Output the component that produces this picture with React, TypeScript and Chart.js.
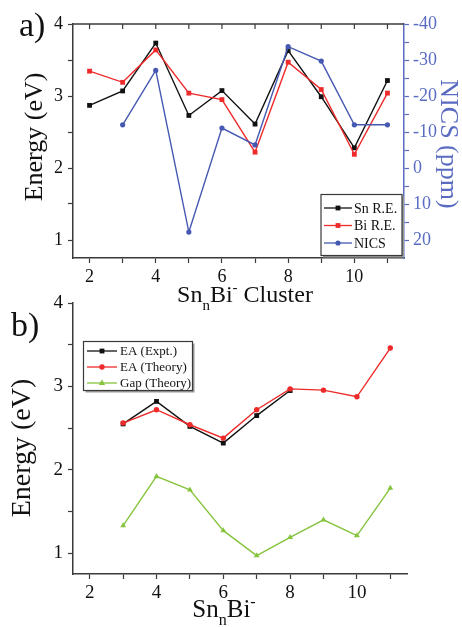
import React, { useEffect, useRef } from 'react';
import { Chart, registerables } from 'chart.js';

Chart.register(...registerables);

const W = 462;
const H = 627;
const SERIF = '"Liberation Serif", "Times New Roman", serif';

// ---------- Panel a data ----------
const clusterSizesA = [2, 3, 4, 5, 6, 7, 8, 9, 10, 11];
const snRE = [2.87, 3.07, 3.735, 2.73, 3.075, 2.61, 3.63, 2.99, 2.28, 3.215];
const biRE = [3.345, 3.19, 3.64, 3.04, 2.95, 2.22, 3.47, 3.09, 2.19, 3.04];
const nicsPpm: (number | null)[] = [null, -12, -27.1, 17.8, -11.1, -6.4, -33.7, -29.7, -12, -12];

// ---------- Panel b data ----------
const clusterSizesB = [3, 4, 5, 6, 7, 8, 9, 10, 11];
const eaExpt: (number | null)[] = [2.55, 2.82, 2.52, 2.32, 2.65, 2.95, null, null, null];
const eaTheory = [2.56, 2.72, 2.54, 2.38, 2.72, 2.97, 2.955, 2.875, 3.46];
const gapTheory = [1.33, 1.92, 1.76, 1.27, 0.97, 1.19, 1.4, 1.21, 1.78];

// ---------- Ticks ----------
const xTicks = [2, 3, 4, 5, 6, 7, 8, 9, 10, 11];
const xLabelTicks = [2, 4, 6, 8, 10];
const energyTicks = [1, 1.5, 2, 2.5, 3, 3.5, 4];
const energyLabelTicks = [1, 2, 3, 4];
const nicsTicks = [-40, -35, -30, -25, -20, -15, -10, -5, 0, 5, 10, 15, 20];
const nicsLabelTicks = [-40, -30, -20, -10, 0, 10, 20];

const FRAME = '#3a3a3a';
const BLACK = '#111111';
const RED = '#ee2a2a';
const BLUE = '#4659b2';
const BLUE_AXIS = '#5a6cc2';
const GREEN = '#86c43e';

const toXY = (xs: number[], ys: (number | null)[]) =>
  xs.map((x, i) => ({ x, y: ys[i] })).filter((p) => p.y !== null && p.y !== undefined);

const setTicks = (values: number[]) => (scale: any) => {
  scale.ticks = values.map((v) => ({ value: v }));
};
const labelOnly = (labels: number[]) => (v: any) =>
  labels.includes(Number(v)) ? String(v) : '';

type Seg = { t: string; kind?: 'sub' | 'sup' };

function drawRich(ctx: CanvasRenderingContext2D, segs: Seg[], cx: number, baseline: number, size: number, color: string) {
  const main = `${size}px ${SERIF}`;
  const small = `${Math.round(size * 0.62)}px ${SERIF}`;
  let total = 0;
  const widths = segs.map((s) => {
    ctx.font = s.kind ? small : main;
    const w = ctx.measureText(s.t).width;
    total += w;
    return w;
  });
  let x = cx - total / 2;
  ctx.fillStyle = color;
  ctx.textAlign = 'left';
  ctx.textBaseline = 'alphabetic';
  segs.forEach((s, i) => {
    ctx.font = s.kind ? small : main;
    const dy = s.kind === 'sub' ? size * 0.32 : s.kind === 'sup' ? -size * 0.42 : 0;
    ctx.fillText(s.t, x, baseline + dy);
    x += widths[i];
  });
}

function drawRotated(ctx: CanvasRenderingContext2D, text: string, cx: number, cy: number, size: number, color: string, angle: number) {
  ctx.save();
  ctx.translate(cx, cy);
  ctx.rotate(angle);
  ctx.font = `${size}px ${SERIF}`;
  ctx.fillStyle = color;
  ctx.textAlign = 'center';
  ctx.textBaseline = 'middle';
  ctx.fillText(text, 0, 0);
  ctx.restore();
}

function drawMarker(ctx: CanvasRenderingContext2D, style: string, x: number, y: number, r: number, color: string) {
  ctx.fillStyle = color;
  ctx.beginPath();
  if (style === 'rect') {
    const s = r * Math.SQRT1_2;
    ctx.rect(x - s, y - s, 2 * s, 2 * s);
  } else if (style === 'triangle') {
    ctx.moveTo(x, y - r);
    ctx.lineTo(x + r * 0.95, y + r * 0.6);
    ctx.lineTo(x - r * 0.95, y + r * 0.6);
    ctx.closePath();
  } else {
    ctx.arc(x, y, r, 0, Math.PI * 2);
  }
  ctx.fill();
}

function drawLegend(
  ctx: CanvasRenderingContext2D,
  chart: any,
  box: { x: number; y: number; w: number; h: number },
  rows: number[],
  lx0: number,
  lx1: number,
  tx: number,
  fontSize: number
) {
  ctx.save();
  ctx.fillStyle = '#9a9a9a';
  ctx.fillRect(box.x + 2, box.y + 2, box.w, box.h);
  ctx.fillStyle = '#ffffff';
  ctx.fillRect(box.x, box.y, box.w, box.h);
  ctx.strokeStyle = FRAME;
  ctx.lineWidth = 1.2;
  ctx.strokeRect(box.x, box.y, box.w, box.h);
  chart.data.datasets.forEach((ds: any, i: number) => {
    const y = rows[i];
    ctx.strokeStyle = ds.borderColor;
    ctx.lineWidth = 1.3;
    ctx.beginPath();
    ctx.moveTo(lx0, y);
    ctx.lineTo(lx1, y);
    ctx.stroke();
    drawMarker(ctx, ds.pointStyle, (lx0 + lx1) / 2, y, ds.pointRadius, ds.borderColor);
    ctx.font = `${fontSize}px ${SERIF}`;
    ctx.fillStyle = '#111';
    ctx.textAlign = 'left';
    ctx.textBaseline = 'middle';
    ctx.fillText(ds.label, tx, y + 1);
  });
  ctx.restore();
}

const decorA = {
  id: 'decorA',
  afterDraw(chart: any) {
    const ctx = chart.ctx as CanvasRenderingContext2D;
    const { left, right, top } = chart.chartArea;
    const xs = chart.scales.x;
    ctx.save();
    // top mirror axis with inward ticks
    ctx.strokeStyle = FRAME;
    ctx.lineWidth = 1.5;
    ctx.beginPath();
    ctx.moveTo(left, top);
    ctx.lineTo(right, top);
    ctx.stroke();
    ctx.lineWidth = 1.2;
    xTicks.forEach((v) => {
      const px = xs.getPixelForValue(v);
      ctx.beginPath();
      ctx.moveTo(px, top);
      ctx.lineTo(px, top + 5);
      ctx.stroke();
    });
    ctx.restore();

    ctx.save();
    ctx.font = `34px ${SERIF}`;
    ctx.fillStyle = '#111';
    ctx.textAlign = 'left';
    ctx.textBaseline = 'alphabetic';
    ctx.fillText('a)', 19, 36);
    drawRotated(ctx, 'Energy (eV)', 35, 137, 26, '#111', -Math.PI / 2);
    drawRotated(ctx, 'NICS (ppm)', 448, 144, 26, BLUE_AXIS, Math.PI / 2);
    drawRich(ctx, [{ t: 'Sn' }, { t: 'n', kind: 'sub' }, { t: 'Bi' }, { t: '-', kind: 'sup' }, { t: ' Cluster' }], 245, 302, 24, '#111');
    drawLegend(ctx, chart, { x: 321, y: 194.5, w: 81, h: 61 }, [208, 225.5, 243], 324, 352, 354, 14);
    ctx.restore();
  },
};

const decorB = {
  id: 'decorB',
  afterDraw(chart: any) {
    const ctx = chart.ctx as CanvasRenderingContext2D;
    ctx.save();
    ctx.font = `34px ${SERIF}`;
    ctx.fillStyle = '#111';
    ctx.textAlign = 'left';
    ctx.textBaseline = 'alphabetic';
    ctx.fillText('b)', 11, 336);
    drawRotated(ctx, 'Energy (eV)', 23, 448, 28, '#111', -Math.PI / 2);
    drawRich(ctx, [{ t: 'Sn' }, { t: 'n', kind: 'sub' }, { t: 'Bi' }, { t: '-', kind: 'sup' }], 224, 617, 25, '#111');
    drawLegend(ctx, chart, { x: 83.5, y: 341.5, w: 109, h: 49 }, [351, 367, 383], 87, 117, 120, 13);
    ctx.restore();
  },
};

function axisX(fontSize: number) {
  return {
    type: 'linear' as const,
    position: 'bottom' as const,
    min: 1.5,
    max: 11.5,
    afterBuildTicks: setTicks(xTicks),
    afterFit: (s: any) => {
      s.height = 50;
    },
    border: { display: true, color: FRAME, width: 1.5 },
    grid: { display: true, drawOnChartArea: false, drawTicks: true, tickLength: 5, tickColor: FRAME, tickWidth: 1.2 },
    ticks: {
      autoSkip: false,
      maxRotation: 0,
      padding: 3,
      color: '#111',
      font: { family: SERIF, size: fontSize },
      callback: labelOnly(xLabelTicks),
    },
  };
}

function axisEnergy(fontSize: number) {
  return {
    type: 'linear' as const,
    position: 'left' as const,
    min: 0.75,
    max: 4,
    afterBuildTicks: setTicks(energyTicks),
    afterFit: (s: any) => {
      s.width = 73;
    },
    border: { display: true, color: FRAME, width: 1.5 },
    grid: { display: true, drawOnChartArea: false, drawTicks: true, tickLength: 5, tickColor: FRAME, tickWidth: 1.2 },
    ticks: {
      autoSkip: false,
      padding: 5,
      color: '#111',
      font: { family: SERIF, size: fontSize },
      callback: labelOnly(energyLabelTicks),
    },
  };
}

function ChartA() {
  const ref = useRef<HTMLCanvasElement>(null);
  useEffect(() => {
    if (!ref.current) return;
    const chart = new Chart(ref.current, {
      type: 'line',
      data: {
        datasets: [
          {
            label: 'Sn R.E.',
            data: toXY(clusterSizesA, snRE),
            yAxisID: 'y',
            borderColor: BLACK,
            backgroundColor: BLACK,
            borderWidth: 1.4,
            pointStyle: 'rect',
            pointRadius: 3.4,
            pointBorderWidth: 0,
            tension: 0,
            order: 2,
          },
          {
            label: 'Bi R.E.',
            data: toXY(clusterSizesA, biRE),
            yAxisID: 'y',
            borderColor: RED,
            backgroundColor: RED,
            borderWidth: 1.4,
            pointStyle: 'rect',
            pointRadius: 3.4,
            pointBorderWidth: 0,
            tension: 0,
            order: 1,
          },
          {
            label: 'NICS',
            data: toXY(clusterSizesA, nicsPpm),
            yAxisID: 'y2',
            borderColor: BLUE,
            backgroundColor: BLUE,
            borderWidth: 1.4,
            pointStyle: 'circle',
            pointRadius: 2.6,
            pointBorderWidth: 0,
            tension: 0,
            order: 0,
          },
        ],
      },
      options: {
        animation: false,
        responsive: false,
        devicePixelRatio: 1,
        layout: { padding: { top: 24, left: 0, right: 0, bottom: H - 258 - 50 } },
        plugins: { legend: { display: false }, tooltip: { enabled: false } },
        scales: {
          x: axisX(18) as any,
          y: axisEnergy(18) as any,
          y2: {
            type: 'linear',
            position: 'right',
            reverse: true,
            min: -40,
            max: 25,
            afterBuildTicks: setTicks(nicsTicks),
            afterFit: (s: any) => {
              s.width = 58;
            },
            border: { display: true, color: BLUE_AXIS, width: 1.5 },
            grid: { display: true, drawOnChartArea: false, drawTicks: true, tickLength: 5, tickColor: BLUE_AXIS, tickWidth: 1.2 },
            ticks: {
              autoSkip: false,
              padding: 4,
              color: BLUE_AXIS,
              font: { family: SERIF, size: 18 },
              callback: labelOnly(nicsLabelTicks),
            },
          } as any,
        },
      },
      plugins: [decorA],
    });
    return () => chart.destroy();
  }, []);
  return <canvas ref={ref} width={W} height={H} style={{ position: 'absolute', left: 0, top: 0 }} />;
}

function ChartB() {
  const ref = useRef<HTMLCanvasElement>(null);
  useEffect(() => {
    if (!ref.current) return;
    const chart = new Chart(ref.current, {
      type: 'line',
      data: {
        datasets: [
          {
            label: 'EA (Expt.)',
            data: toXY(clusterSizesB, eaExpt),
            borderColor: BLACK,
            backgroundColor: BLACK,
            borderWidth: 1.4,
            pointStyle: 'rect',
            pointRadius: 3.4,
            pointBorderWidth: 0,
            tension: 0,
            order: 1,
          },
          {
            label: 'EA (Theory)',
            data: toXY(clusterSizesB, eaTheory),
            borderColor: RED,
            backgroundColor: RED,
            borderWidth: 1.4,
            pointStyle: 'circle',
            pointRadius: 2.7,
            pointBorderWidth: 0,
            tension: 0,
            order: 0,
          },
          {
            label: 'Gap (Theory)',
            data: toXY(clusterSizesB, gapTheory),
            borderColor: GREEN,
            backgroundColor: GREEN,
            borderWidth: 1.4,
            pointStyle: 'triangle',
            pointRadius: 3.4,
            pointBorderWidth: 0,
            tension: 0,
            order: 2,
          },
        ],
      },
      options: {
        animation: false,
        responsive: false,
        devicePixelRatio: 1,
        layout: { padding: { top: 303, left: 0, right: 55, bottom: H - 574 - 50 } },
        plugins: { legend: { display: false }, tooltip: { enabled: false } },
        scales: {
          x: axisX(19) as any,
          y: axisEnergy(19) as any,
        },
      },
      plugins: [decorB],
    });
    return () => chart.destroy();
  }, []);
  return <canvas ref={ref} width={W} height={H} style={{ position: 'absolute', left: 0, top: 0 }} />;
}

export default function App() {
  return (
    <div style={{ position: 'absolute', left: 0, top: 0, width: W, height: H, background: '#fff', overflow: 'hidden' }}>
      <ChartA />
      <ChartB />
    </div>
  );
}
